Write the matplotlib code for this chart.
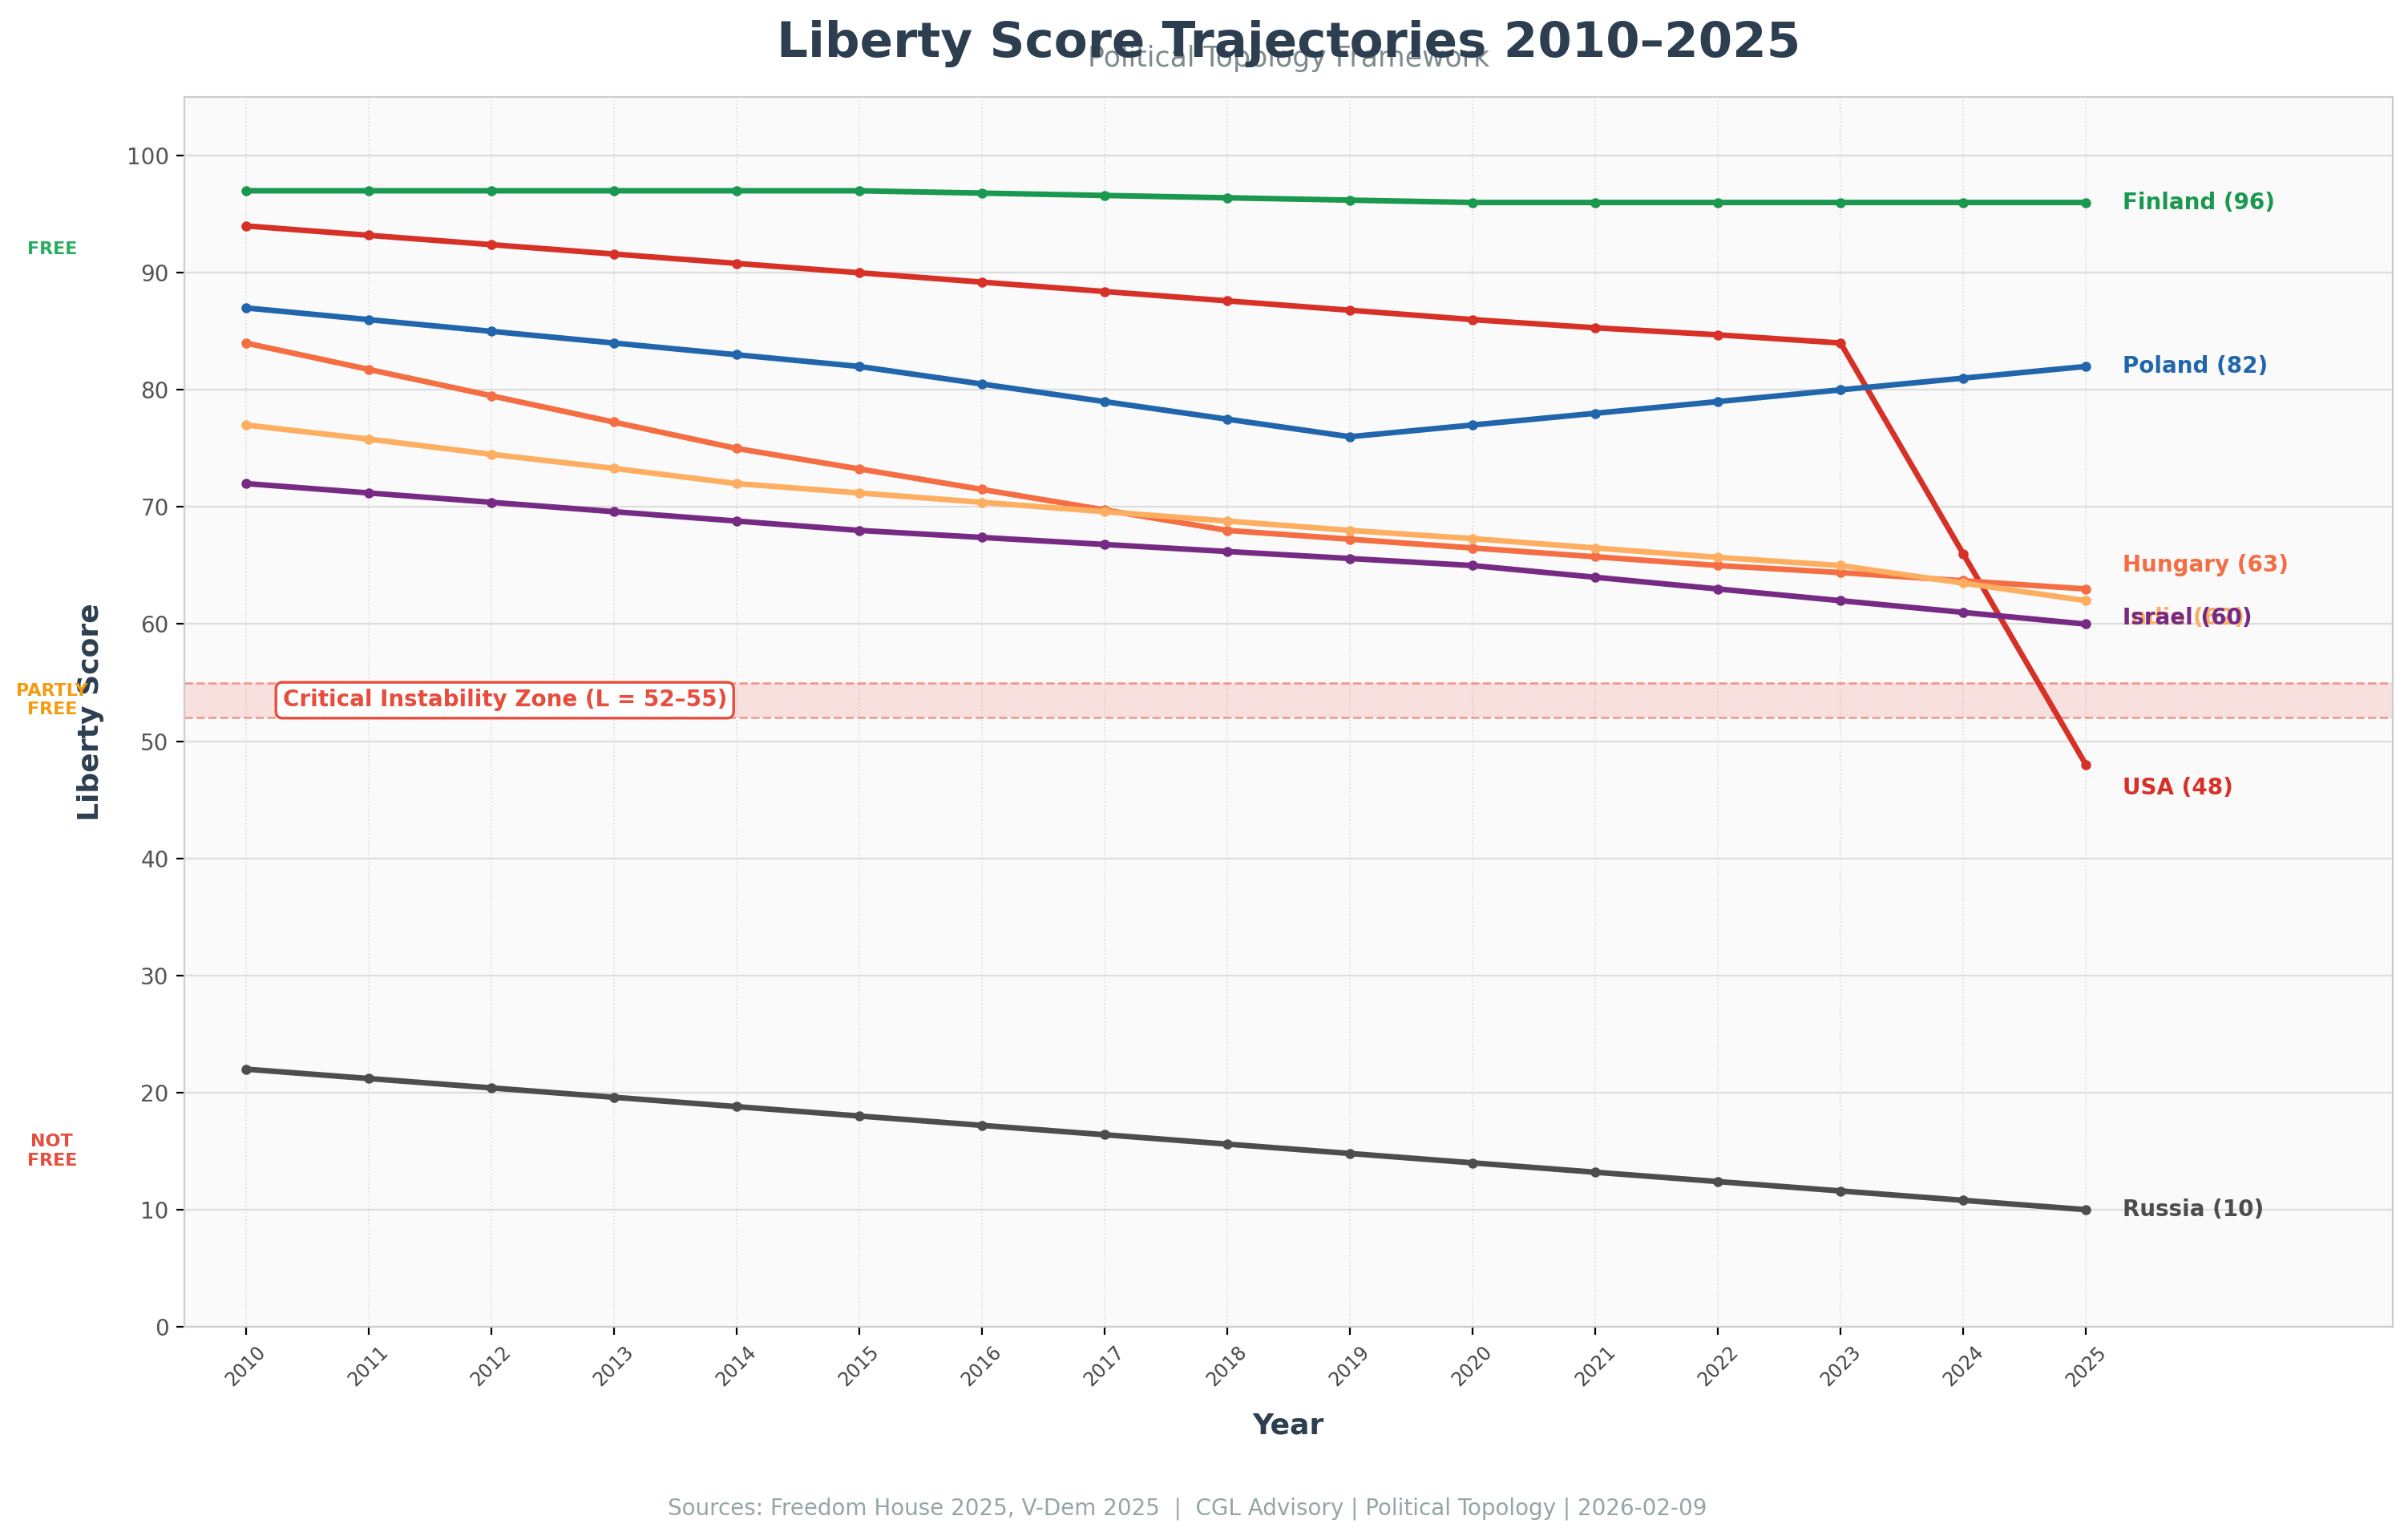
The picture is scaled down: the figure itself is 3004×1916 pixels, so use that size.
import matplotlib
matplotlib.use('Agg')
from matplotlib import pyplot as plt
import matplotlib.transforms as mtransforms

years = list(range(2010, 2026))

countries = ['Finland', 'USA', 'Poland', 'Hungary', 'India', 'Israel', 'Russia']

finland = [97, 97, 97, 97, 97, 97, 96.8, 96.6, 96.4, 96.2, 96, 96, 96, 96, 96, 96]
usa = [94, 93.2, 92.4, 91.6, 90.8, 90, 89.2, 88.4, 87.6, 86.8, 86, 85.3, 84.7, 84, 66, 48]
poland = [87, 86, 85, 84, 83, 82, 80.5, 79, 77.5, 76, 77, 78, 79, 80, 81, 82]
hungary = [84, 81.75, 79.5, 77.25, 75, 73.25, 71.5, 69.75, 68, 67.25, 66.5, 65.75, 65, 64.4, 63.7, 63]
india = [77, 75.8, 74.5, 73.3, 72, 71.2, 70.4, 69.6, 68.8, 68, 67.3, 66.5, 65.7, 65, 63.5, 62]
israel = [72, 71.2, 70.4, 69.6, 68.8, 68, 67.4, 66.8, 66.2, 65.6, 65, 64, 63, 62, 61, 60]
russia = [22, 21.2, 20.4, 19.6, 18.8, 18, 17.2, 16.4, 15.6, 14.8, 14, 13.2, 12.4, 11.6, 10.8, 10]

series = [finland, usa, poland, hungary, india, israel, russia]
colors = ['#1a9850', '#d73027', '#2166ac', '#f46d43', '#fdae61', '#762a83', '#4d4d4d']
label_offsets = [0, -2, 0, 2, -1.5, 0.5, 0]

zones = ['FREE', 'PARTLY\nFREE', 'NOT\nFREE']
zone_y = [92, 53.5, 15]
zone_colors = ['#27ae60', '#f39c12', '#e74c3c']

fig = plt.figure(figsize=(15.02, 9.58), dpi=200)
ax = fig.add_axes([0.0766, 0.1362, 0.9170, 0.8006])
ax.set_facecolor('#fafafa')

# critical zone
ax.axhspan(52, 55, color='#e74c3c', alpha=0.15, lw=0, zorder=1)
for yy in (52, 55):
    ax.axhline(yy, color='#e74c3c', alpha=0.5, lw=1, ls='--', zorder=1)
ax.text(2010.3, 53.5, 'Critical Instability Zone (L = 52\u201355)', color='#e74c3c',
        fontsize=10, fontweight='bold', va='center', ha='left', zorder=5,
        bbox=dict(boxstyle='round,pad=0.3', fc='white', ec='#e74c3c', lw=1.2))

for name, vals, c, off in zip(countries, series, colors, label_offsets):
    ax.plot(years, vals, color=c, lw=2.5, marker='o', markersize=3.5, zorder=3)
    ax.text(years[-1] + 0.3, vals[-1] + off, f'{name} ({vals[-1]:g})', color=c,
            fontsize=10, fontweight='bold', va='center', ha='left', zorder=4)

trans = mtransforms.blended_transform_factory(ax.transAxes, ax.transData)
for z, y, c in zip(zones, zone_y, zone_colors):
    ax.text(-0.06, y, z, transform=trans, color=c, fontsize=8, fontweight='bold',
            ha='center', va='center', linespacing=1.2)

ax.set_xlim(2009.5, 2027.5)
ax.set_ylim(0, 105)
ax.set_xticks(years)
ax.set_xticklabels([str(y) for y in years], rotation=45, fontsize=8.5, color='#444444')
ax.set_yticks(range(0, 101, 10))
ax.tick_params(axis='y', labelsize=10, labelcolor='#555555')
ax.grid(axis='y', color='#dddddd', lw=0.8, zorder=0)
ax.grid(axis='x', color='#dddddd', lw=0.6, ls=':', zorder=0)
ax.set_axisbelow(True)
for s in ax.spines.values():
    s.set_color('#cccccc')

ax.set_xlabel('Year', fontsize=13, fontweight='bold', color='#2c3e50', labelpad=10)
ax.set_ylabel('Liberty Score', fontsize=13, fontweight='bold', color='#2c3e50', labelpad=10)

ax.set_title('Liberty Score Trajectories 2010\u20132025', fontsize=22, fontweight='bold',
             color='#2c3e50', pad=18)
ax.text(0.5, 1.02, 'Political Topology Framework', transform=ax.transAxes, ha='center',
        va='bottom', fontsize=12.5, color='#7f8c8d')

fig.text(0.493, 0.018, 'Sources: Freedom House 2025, V-Dem 2025  |  CGL Advisory | Political Topology | 2026-02-09',
         ha='center', va='center', fontsize=10, color='#95a5a6')

fig.savefig('out.png', dpi=200)
